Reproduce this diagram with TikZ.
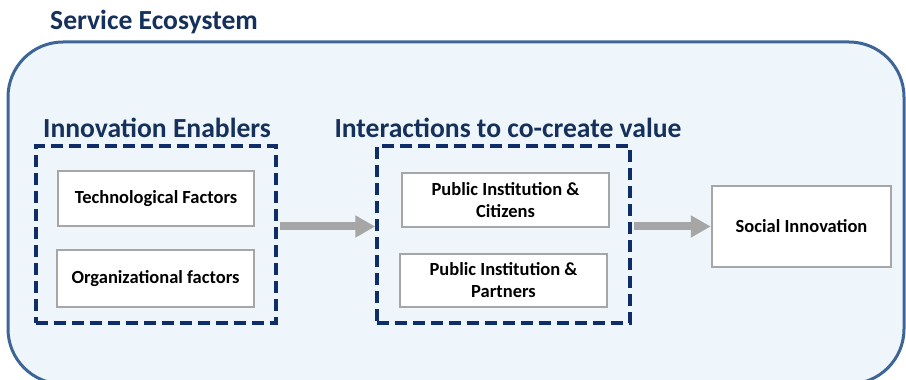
\documentclass[tikz,border=0pt]{standalone}
\usepackage{fontspec}
\setmainfont{Carlito}
\usepackage{tikz}
\usetikzlibrary{arrows.meta}

\definecolor{ecofill}{HTML}{EFF6FB}
\definecolor{ecoline}{HTML}{3D6596}
\definecolor{navy}{HTML}{0F2D69}
\definecolor{headblue}{HTML}{15305A}
\definecolor{boxgray}{HTML}{A6A6A6}

\begin{document}
\begin{tikzpicture}[x=1pt,y=1pt,
  factor/.style={draw=boxgray, line width=2.5pt, fill=white, align=center,
    font=\bfseries\fontsize{18.5}{22}\selectfont, inner sep=0pt},
  group/.style={draw=navy, line width=3.5pt, dash pattern=on 12pt off 6pt, inner sep=0pt},
  heading/.style={text=headblue, font=\bfseries\fontsize{27.6}{32}\selectfont, inner sep=0pt},
  flow/.style={draw=boxgray, line width=8pt, -{Triangle[length=20pt,width=21pt]}}]
  \useasboundingbox (0,0) rectangle (906,380);
  %\draw[very thin,color=gray] (0,0) grid[step=20pt] (906,380);

  % the ecosystem frame
  \draw[line width=3pt, draw=ecoline, fill=ecofill, rounded corners=55pt] (8,-4) rectangle (904,338);
  \node[heading, anchor=base west] (eco) at (50,350) {Service Ecosystem};

  % dashed groups
  \node[group, minimum width=240pt, minimum height=177pt] (enablers) at (156,145.5) {};
  \node[group, minimum width=253pt, minimum height=177pt] (interact) at (503.5,145.5) {};
  \node[heading, anchor=base] (enablerstitle) at (157,242) {Innovation Enablers};
  \node[heading, anchor=base] (interacttitle) at (508,242) {Interactions to co-create value};

  \node[factor, minimum width=196pt, minimum height=55pt] (tech) at (156,181.5) {Technological Factors};
  \node[factor, minimum width=197pt, minimum height=57pt] (org) at (155.5,101.5) {Organizational factors};
  \node[factor, minimum width=207pt, minimum height=54pt] (citizens) at (505.5,180) {Public Institution \&\\Citizens};
  \node[factor, minimum width=207pt, minimum height=53pt] (partners) at (503.5,99.5) {Public Institution \&\\Partners};
  \node[factor, minimum width=179pt, minimum height=81pt] (social) at (801.5,153.5) {Social Innovation};

  \draw[flow, shorten <=2pt] (enablers.east |- social) -- (interact.west |- social);
  \draw[flow, shorten <=2pt] (interact.east |- social) -- (social.west);
\end{tikzpicture}
\end{document}
